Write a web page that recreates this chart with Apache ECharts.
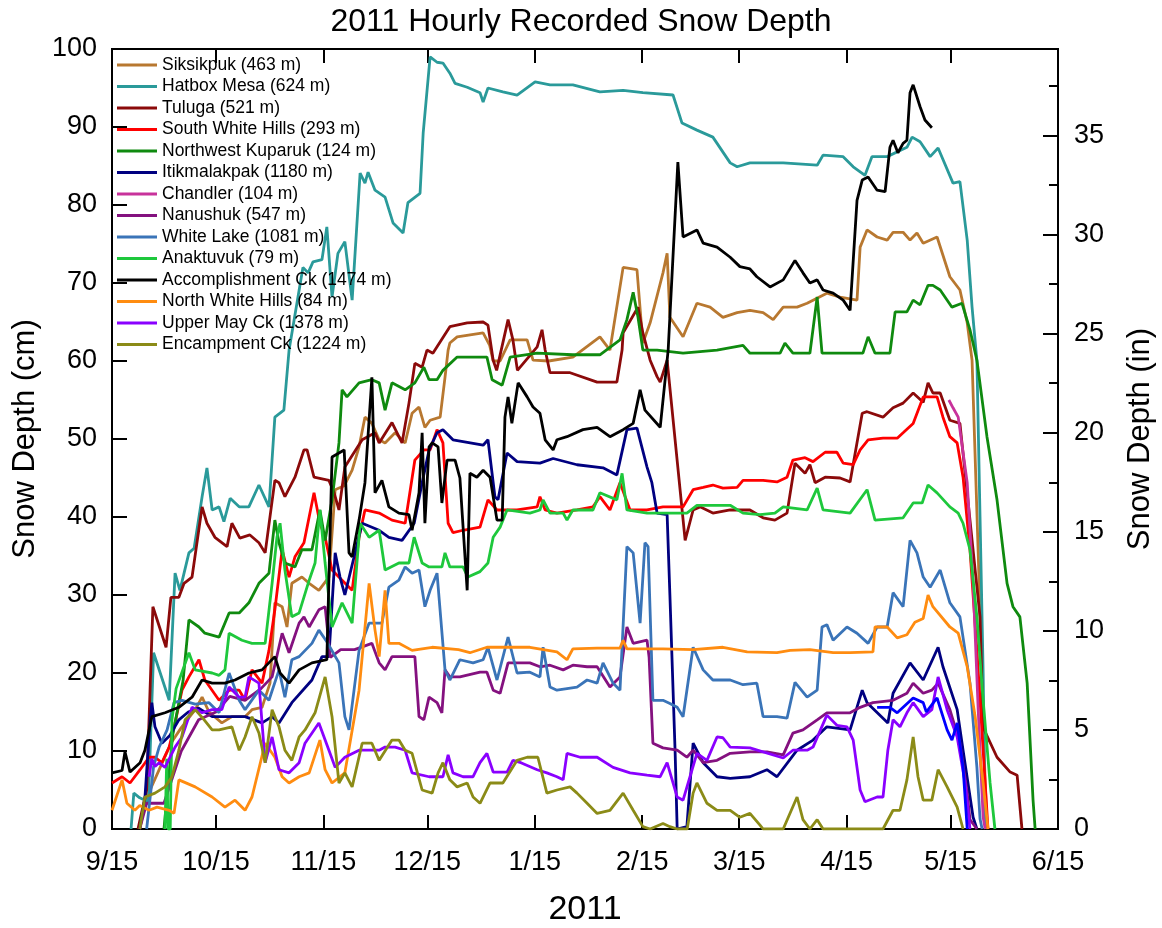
<!DOCTYPE html>
<html><head><meta charset="utf-8">
<script src="https://cdn.jsdelivr.net/npm/echarts@6/dist/echarts.min.js"></script>
<style>html,body{margin:0;padding:0;background:#fff}#c{width:1162px;height:928px}</style>
</head><body><div id="c"></div>
<script>
// day offsets from 2010-09-15, values in cm
const tickDays = [0, 30, 61, 91, 122, 153, 181, 212, 242, 273];
const tickLabels = ['9/15','10/15','11/15','12/15','1/15','2/15','3/15','4/15','5/15','6/15'];

const siksikpuk = [[8,0],[9,2],[11,5],[14,8],[17,11],[20,13],[24,15.3],[26,16.9],[28,15],[31.7,13.6],[34.6,14.4],[38.4,14.4],[40.4,15.3],[43.3,15.6],[45.6,18.7],[47,29],[49.1,28.5],[50.5,25.9],[51.9,31.5],[54.8,32.3],[56.9,31.5],[59.7,30.6],[62.6,32.3],[64.4,43.5],[67,44],[69.3,46],[71.3,49],[73,52.8],[75,52],[77.1,49.9],[78.8,49.5],[81.7,50.8],[84.6,49.5],[86.6,53.3],[88.6,54.1],[90.3,51.5],[91.8,52.4],[94.7,52.8],[96.1,57.9],[97,61.4],[97.5,62.3],[99.6,63.1],[107.1,63.6],[109,62],[110,60],[112,60],[114.9,62.7],[119.8,62.7],[121.5,60.1],[126,60],[133,60.5],[140.8,63.1],[143.7,61.4],[147.5,72],[151.5,71.7],[153.2,62.3],[155.3,64.9],[159,71.3],[160.2,73.8],[161,65.6],[164.8,63.1],[168.8,67.4],[172.6,66.9],[176.3,65.6],[180.4,66.2],[184.1,66.5],[187.9,66.2],[190.8,65.3],[193.7,66.9],[197.7,66.9],[200.6,67.4],[206.3,68.7],[210.1,68.2],[215,67.8],[215.9,74.6],[217.9,76.8],[220.8,75.9],[223.7,75.5],[225.4,76.5],[228.3,76.5],[230.3,75.5],[232.3,76.4],[234.1,75.1],[238.1,75.9],[241.8,70.8],[244.7,69.1],[246.8,64.9],[248.2,60.1],[250,35],[251.5,12],[252.5,0]];
const hatboxMesa = [[5.5,0],[6.3,4.6],[8,4],[10.5,3.5],[12,22.6],[16.5,16.5],[18.2,32.8],[19.6,30.6],[22.2,35.4],[23.7,36],[26,42.6],[27.4,46.3],[28.9,40.9],[30.9,41.3],[32.3,39.4],[34.1,42.4],[36.7,41.3],[39.5,41.3],[42.4,44.1],[45.3,41.3],[47,52.8],[49.6,53.7],[51.1,61.4],[55.1,72],[56.6,71.3],[58,72.7],[60.6,73],[62,77.2],[63.5,68.2],[65.2,73.8],[67.2,75.3],[69.3,67.8],[71.6,84.1],[73,82.8],[73.9,84.2],[75.9,81.9],[78.8,81],[81.1,77.7],[84,76.4],[85.4,80.3],[88.9,81.5],[89.8,89.2],[91.8,99],[93.8,98.3],[95.5,98.2],[97.5,96.9],[99,95.6],[102.5,95.1],[106.2,94.4],[107.1,93.2],[108.5,95],[112.8,94.5],[116.9,94.1],[122.1,95.8],[126.4,95.4],[133,95.4],[140.8,94.5],[147.5,94.7],[153.2,94.4],[161.9,94.1],[164.5,90.5],[168.8,89.6],[173.4,88.7],[178.4,85.4],[180.4,84.9],[184.1,85.4],[193.7,85.4],[203.5,85.1],[205.2,86.4],[211,86.2],[213.9,84.9],[217.3,83.8],[219.3,86.2],[223.7,86.2],[229.4,87.4],[230.9,88.7],[233.2,88.1],[236.1,86.2],[238.4,87.3],[242.7,82.8],[244.7,83],[246.8,75.5],[248.2,66.9],[249.6,60],[250.5,40],[251.4,20],[252,0]];
const tuluga = [[7.5,0],[8.5,2],[10,5],[11.8,28.5],[15.6,23.3],[17,29.7],[19.3,29.7],[20.8,31.5],[23.1,32.3],[26,41.3],[27.4,39.2],[29.7,37.4],[33.2,36.2],[34.6,39.2],[36.9,37.3],[39.8,37.7],[42.4,36.7],[44.2,35.4],[47,44.7],[48.2,44.4],[49.9,42.6],[52.8,45.1],[55.4,48.6],[56.3,48.6],[58.3,45.1],[62.6,44.7],[64.1,43.1],[65.5,40.9],[67.2,46.4],[72.2,49.9],[75.9,50.8],[77.1,49.5],[80.8,52.1],[83.7,49.5],[85.7,54.6],[87.4,59.7],[89.5,59.2],[90.9,61.4],[92.6,61],[97.5,64.4],[102.5,64.9],[107.1,65],[108.5,64.6],[110,60.1],[111,58.8],[114.3,65.3],[115.7,62.7],[117,58.8],[122.7,61.8],[124.1,64],[125,61.4],[126.4,58.5],[132.2,58.5],[140,57.3],[145.7,57.3],[147.2,61.4],[147.5,63.6],[151.8,66.9],[153.2,63.6],[155.3,60.1],[157.3,58],[158.2,57.3],[160.2,60.1],[165.4,37],[167.7,40.9],[169.7,41.3],[173.4,40.5],[178.4,40.9],[184.1,40.9],[187.9,39.9],[191.3,39.6],[194.8,40.5],[197.1,46.9],[200,45.6],[201.4,46.7],[202.9,44.4],[205.8,45.1],[210.1,45],[213,44.5],[216.5,53.3],[217.9,53.5],[222.5,52.8],[225.4,54],[228.3,54.6],[231.2,55.9],[234.1,54.7],[235.5,57.2],[236.9,55.9],[239,55.9],[241.8,52.4],[244.7,52],[250.5,27.2],[251.4,13],[255.4,9.2],[259.2,7.3],[261.2,6.9],[262.6,0]];
const southWhiteHills = [[0,5.9],[2.9,6.7],[5.2,5.9],[8.1,7.6],[10.7,9.2],[12.4,9.2],[14.4,8.5],[16.5,10.5],[18.2,13.6],[20.2,17.8],[22.2,19.5],[25.1,21.7],[26.8,19.1],[30.9,16.5],[33.8,17.8],[36.7,17.8],[38.4,16.5],[40.4,20.4],[43.3,18.7],[45.3,22.9],[47,28.1],[49.1,35.8],[51.1,32.3],[52.8,34.9],[55.4,36.7],[58.3,43.1],[60,39.2],[61.5,37.4],[63.5,33.2],[66.4,31.9],[69.3,30.6],[71.3,37.4],[73,40.9],[77.1,40.5],[80.8,39.6],[84.6,39.2],[87.4,47.3],[90,48.6],[91.8,48.6],[93.8,51.2],[95.5,49.5],[97,39.2],[98.4,38],[101.3,38.3],[106.2,38.7],[108.5,42.2],[111.1,40.9],[116.9,40.9],[122.7,41.3],[123.5,42.6],[125,40.9],[128.4,40.5],[134.2,40.9],[138.8,41.3],[140.8,42.6],[143.7,40.9],[146.6,44.4],[149.5,40.9],[154.4,40.9],[159,41.3],[164.8,41.3],[167.7,43.5],[170.6,43.8],[173.4,44.1],[176.3,43.7],[180.4,43.8],[182.1,44.7],[187.9,44.7],[191.9,44.5],[194.8,45.1],[196.5,47.3],[200,47.6],[202.3,47.1],[205.8,48.3],[209.2,48.3],[211,46.9],[213.9,46.7],[215.9,48.6],[218.2,49.9],[222.5,50.1],[226.6,50.1],[228.3,50.8],[231.2,52],[234.1,55.4],[238.1,55.4],[239.8,52.8],[241.8,50.3],[243.9,49.5],[245.6,45.1],[247.6,35.8],[249.6,22.9],[251.4,10.1],[252.8,0]];
const northwestKuparuk = [[15,0],[17.5,12],[20.5,19],[22.2,26.8],[25.1,25.9],[26.8,25.1],[30.9,24.6],[33.8,27.7],[36.7,27.7],[39.5,29],[42.4,31.5],[45.3,32.8],[47,39.6],[48.2,36.7],[49.9,34.1],[52.8,33.6],[54.8,35.8],[57.7,35.8],[60,40.9],[61.5,37],[63.5,42.2],[65.5,49.5],[66.4,56.3],[67.8,55.4],[71.3,57.2],[75,57.6],[77.1,57.2],[78.8,53.7],[80.8,57.2],[84.6,56.3],[87.4,57.2],[90,59.2],[91.5,57.6],[93.8,57.6],[95.5,58.8],[99.6,60.5],[102.5,60.5],[108.2,60.5],[109.7,57.6],[112.6,56.9],[114.9,60.5],[122.7,61],[133,60.8],[140.8,60.8],[146.6,62.7],[148.6,65.3],[150.4,68.8],[151.8,65.6],[153.2,61.4],[157.3,61.4],[164.8,61],[174.6,61.4],[182.1,62],[184.1,61],[192.8,61],[194.2,62.3],[196.5,61],[201.4,61],[203.5,68.2],[204.9,61],[216.7,61],[218.2,63.1],[220.2,61],[224.5,61],[226,66.3],[229.4,66.3],[231.2,67.8],[233.2,67.2],[235.5,69.7],[236.9,69.7],[239,69.1],[242.4,66.9],[245.3,67.4],[247.6,64],[249.6,60.1],[252.5,50.3],[255.4,42.2],[258.3,31.5],[260,28.5],[262,27.2],[264.1,18.7],[265.8,3.7],[266.4,0]];
const itikmalakpak = [[8,0],[9.5,4],[11,14],[11.5,16.2],[12.4,13.1],[14.4,11],[16.7,12],[19.3,14],[22,15],[25,15.5],[28.9,14.4],[38.4,14.4],[43.3,13.6],[46.2,14.4],[48.2,13.6],[51.9,16.2],[57.7,19.1],[60.6,22.1],[62.6,22.1],[64.4,35.4],[65.8,32.3],[67.2,30],[72.2,39.2],[77.1,38.3],[79.9,37.4],[83.7,37],[87.2,39.2],[89.5,44.4],[91.5,48.6],[93.8,50.8],[95.5,51.2],[98.4,49.9],[107.1,49.2],[108.5,49.9],[110.5,42.6],[111.4,42.2],[114,48.2],[116.9,47.1],[123.5,46.9],[127.3,47.5],[134.2,46.7],[141.7,46.3],[145.7,45.4],[148.6,51.2],[151.5,51.4],[154.4,46.4],[155.8,44.4],[157.3,40.5],[160.2,40.3],[161,30],[162.5,10],[163.1,0],[165.9,0.3],[167.7,11],[170.6,8.5],[174.6,6.7],[178.4,6.5],[184.1,6.7],[189,7.6],[191.9,6.7],[197.7,10.1],[202.3,11.4],[206.3,13.1],[213,12.7],[216.5,17.8],[217.9,16.2],[223.9,13.6],[225.4,17.4],[230.3,21.3],[234.1,19.1],[238.4,23.3],[239.8,20.8],[243.9,15.3],[245.6,10.1],[248.5,1.5],[249.6,0]];
const chandler = [[241.5,55],[242.7,54],[244.2,52.8],[246.8,44.4],[248.5,31.5],[250,15],[251.4,1.5],[252,0]];
const nanushuk = [[8,0],[10,3.3],[15,3.3],[17,6],[20,10],[25,14],[30,15],[34,17],[38.4,16.5],[43,18],[46.2,19.5],[49.1,25.1],[51.1,22.6],[54,26.4],[55.4,27.2],[56.9,25.9],[59.7,28.1],[61.5,28.5],[63,22],[66,23],[70,23],[75,23.8],[77.1,21.3],[78.8,20.4],[80.8,22.1],[87.4,22.1],[88.6,14.4],[90,14],[91.5,16.9],[93.8,16.2],[95.2,14.9],[96.1,20.4],[97.5,19.5],[100.4,19.5],[106.2,20.1],[108.2,20.1],[110,17.8],[112,17.4],[114.3,21.3],[120.6,21.3],[123.5,20.8],[126.4,21],[130.2,20.4],[133,21],[137.1,20.8],[140,20.8],[143.7,18.2],[146.6,19.5],[148.6,25.9],[150.4,23.8],[154.4,24.2],[155,22],[156.1,11],[159,10.4],[163.1,10.1],[165.9,9.2],[167.7,10.1],[170.6,8.5],[174.6,8.8],[178.4,9.7],[184.1,9.9],[189,9.9],[193.7,9.5],[196.5,12.3],[199.4,12.7],[203.5,14],[206.3,14.9],[213,14.9],[215.9,15.6],[219.6,16.2],[225.4,16.5],[229.4,17.4],[231.2,18.7],[234.1,17.4],[236.6,17.8],[238.4,18.7],[241.8,15.3],[244.7,11],[246.8,4.6],[247.6,1.2],[249.6,0]];
const whiteLake = [[10,0],[12,8],[13.6,10.5],[15.9,12.7],[17.9,16.2],[20.2,16.5],[24,16],[28,16.2],[30.9,14.9],[33.8,20],[36.7,16.5],[38.4,15.3],[42.4,17.8],[45.3,16.5],[48.2,20.4],[49.9,16.9],[51.9,21.7],[54,22.1],[57.7,23.8],[59.7,25.5],[62,24],[65.5,21.3],[67.2,14.4],[68.4,12.7],[71.3,22.9],[74.2,26.4],[77.9,26.4],[79.9,31],[82.8,31.9],[84.6,33.6],[86.6,32.8],[88.6,33.2],[90.3,28.5],[91.8,30.6],[93.8,32.8],[96.1,20.4],[97.5,19.1],[100.4,21.7],[104.2,21.3],[107.1,21.7],[108.5,23.3],[111.1,19.1],[114.3,24.6],[116.9,20],[120.6,20.1],[123.5,19.5],[124.4,23.3],[126.4,18.2],[128.4,17.8],[134.2,18.2],[137.1,19.1],[140,18.7],[141.7,21.3],[144.6,18.7],[146.6,17.8],[148.6,36.2],[150.4,35.4],[152.4,26.4],[153.8,36.7],[154.7,36.2],[156.1,16.5],[159,16.5],[161,16.1],[163.1,15.6],[164.8,14.4],[167.7,23.3],[170.6,20.4],[173.4,19.1],[178.4,19.1],[182.1,18.5],[186.1,18.7],[187.9,14.4],[191.9,14.4],[194.8,14.2],[197.1,18.8],[200.6,16.9],[203.5,17.8],[204.9,25.9],[206.3,26.2],[208.1,24.2],[212.1,25.9],[215,25.1],[218.2,23.8],[220.8,25.9],[223.7,25.9],[225.4,30.3],[228.3,28.5],[230.3,37],[232.3,35.4],[234.1,32.3],[236.1,31],[239,33.2],[241.8,29],[244.7,27.2],[247.6,18.7],[249.6,7.9],[250.5,1.3],[251.1,0]];
const anaktuvuk = [[15.3,0],[15.8,9],[16.2,0],[16.8,0],[17.3,14],[18.5,18],[22.2,22.6],[24,20.4],[28.9,20],[30.9,19.7],[32.6,20.4],[33.8,25.1],[37.5,24.2],[40.4,23.8],[44.2,23.8],[46.2,31.5],[47.6,37.4],[48.5,39.2],[49.9,33.2],[51.9,27.2],[54,27.7],[56.9,31.9],[58.6,34.1],[60,40.9],[61.5,34.1],[63.5,25.9],[66.4,29],[69.3,26.4],[71.6,39.2],[74.2,37.4],[77.1,38.3],[78.8,33.2],[82.8,34.1],[85.7,34.1],[87.2,37.4],[89.5,34.1],[91.5,33.6],[95.2,33.6],[96.1,35.4],[97.5,33.6],[101.3,33.6],[102.7,32.3],[106.2,33],[108.5,34.1],[110,37.4],[112,38.7],[114,40.9],[120.6,40.5],[123.5,40.9],[124.4,42.2],[126.4,40.5],[130.2,40.5],[131.3,39.6],[133,40.9],[138.8,40.9],[140.8,43.1],[145.7,42.2],[147.2,45.6],[148.6,40.9],[154.4,40.5],[159,40.5],[165.9,40.5],[168.8,41.5],[178.4,41.5],[182.1,40.5],[187,40.3],[191.3,40.5],[193.7,41.3],[200.6,40.9],[203.5,43.7],[205.2,40.9],[213,40.5],[217.9,43.5],[220.2,39.6],[228.3,39.9],[231.2,41.8],[233.8,41.8],[235.5,44.1],[238.1,43.1],[241.8,41.3],[244.2,40.5],[245.6,39.2],[247.6,35.8],[249.6,27.2],[251.4,16.5],[253.4,5.9],[254.8,0]];
const accomplishmentCk = [[0,7.2],[2.9,7.5],[3.75,9.9],[5.2,7.3],[8.1,8.5],[9.5,10.1],[10.7,12.7],[11.5,14.4],[15.3,14.9],[19.3,15.6],[23.1,16.9],[26,19.1],[28.9,18.7],[32.6,18.7],[35.5,19.1],[39.5,20],[43.3,20.4],[47,22.1],[48.5,20],[51.1,18.7],[54,20.4],[57.7,21.3],[62,21.7],[63.5,47.7],[67,48.6],[68.4,35.4],[69.3,34.9],[71.3,39.6],[73,44.4],[75,57.9],[75.9,43.1],[77.9,44.7],[79.9,41.3],[82.8,40.5],[85.7,40.3],[86.6,38.3],[88.6,43.1],[89.5,50.8],[90.3,39.2],[91.5,49],[92.4,49.5],[94.1,49],[95.2,41.8],[96.7,47.3],[99,47.3],[100.4,45],[102.5,30.6],[103.3,45.6],[105.3,45.1],[107.1,46],[109.1,45.1],[111.1,39.6],[112.6,39.6],[113.4,52.8],[114.3,55.4],[115.4,52],[117.2,57.2],[119.8,55.4],[121.5,54.1],[123.5,53.3],[125,49.9],[127.3,48.6],[128.4,49.9],[131.3,50.3],[135.9,51.2],[140,51.5],[143.7,50.3],[147.5,51.2],[150.4,52],[152.4,56.3],[153.8,53.7],[158.2,51.5],[160.5,61.4],[163.3,85.5],[164.8,75.9],[168.8,76.8],[170.6,75.1],[174.6,74.6],[178.4,73.3],[181.2,72.1],[184.1,71.8],[186.1,70.8],[189.9,69.5],[193.7,70.4],[197.1,72.9],[199.4,71.3],[201.4,70],[203.5,70.4],[205.2,69.1],[208.1,68.7],[211,67.8],[213,66.5],[215,80.6],[216.5,83.2],[218.2,83.6],[220.8,81.9],[223.1,81.7],[224.5,87.4],[225.4,88.3],[226.8,86.7],[228.3,87.9],[229.4,88.3],[230.3,94.4],[231.2,95.4],[233.2,92.6],[234.6,90.9],[236.6,89.9]];
const northWhiteHills = [[0,2.4],[2.9,6.3],[4.3,3.3],[6.6,2.4],[8,3],[10.7,2.4],[13,2.8],[16.5,2.4],[17.9,2],[19.3,6.3],[24,5.4],[28.9,4.1],[32.6,2.8],[35.5,3.7],[38.4,2.4],[40.4,4.1],[44.2,11],[47,9.2],[49.1,6.7],[51.1,5.9],[54,6.7],[56.9,7.2],[60,11.4],[61.5,7.6],[63.5,5.9],[67.2,7.2],[71.3,17.8],[74.2,31.5],[75.9,25.5],[77.1,22.1],[78.8,30.6],[79.9,23.8],[82.8,23.8],[86.6,22.9],[92.4,23.3],[100,23],[103.3,22.6],[108.2,23.3],[114.9,23.3],[120.6,23.3],[128.4,22.7],[131.3,21.7],[133,23.1],[140,23.2],[146.6,23.2],[147.5,24.2],[148.6,23.1],[159,23.1],[167.7,23],[176.3,23.3],[183.3,22.7],[191.9,22.6],[195.7,22.9],[201.4,23],[208.1,22.6],[213,22.6],[219.6,22.7],[220.2,25.9],[223.7,25.9],[226.6,24.5],[229.4,24.9],[231.7,26.5],[234.1,27],[235.5,30],[236.9,28.5],[241.8,25.9],[244.2,25.1],[246.8,20.8],[249.1,14.4],[251.4,5.9],[252.8,0]];
const upperMayCk = [[10.7,6.7],[11.5,9],[12.4,8],[13.6,8.5],[15.3,7.9],[18.2,10.5],[20.2,11.8],[23.1,15.6],[26,14.9],[28.9,15.3],[31.7,15.3],[33.8,18.2],[36.7,16.9],[38.4,16.9],[39.5,19.5],[42.4,18.7],[44.2,8.5],[46.2,11.8],[48.2,7.6],[51.1,7.2],[54,8.5],[55.7,11],[59.7,13.6],[62.6,10.1],[64.4,7.9],[67.2,9.2],[71.3,10.1],[77.1,10.1],[78.8,10.5],[81.7,10.5],[84.6,10.1],[86.6,7.2],[91.5,6.7],[95.5,6.7],[97,9.5],[98.4,7.2],[101.3,6.7],[104.2,6.7],[106.2,8.5],[108.2,9.7],[110,7.3],[114,7.3],[115.7,8.8],[118,8.5],[122.7,7.6],[125.5,7.2],[128.4,6.7],[130.2,6.3],[131.3,9.7],[135.1,9.2],[140,9.2],[144.6,7.9],[149.5,7.2],[154.4,6.9],[158.2,6.7],[160.2,8.5],[163.1,4.1],[164.8,3.7],[166.8,6.7],[168.8,9.7],[171.7,8.8],[174.6,11.8],[176.3,11.7],[178.4,10.5],[184.1,10.4],[193.7,9.1],[196.5,10.1],[200.6,10.1],[202.3,10.5],[206.3,14.6],[209.2,13.3],[212.1,13.1],[213.9,11.4],[215.9,5],[217.3,3.5],[220.8,4.1],[222.5,4.1],[223.9,10.1],[225.4,14],[227.4,13.1],[229.4,14.9],[231.2,16.2],[234.1,14.4],[236.6,15.3],[238.4,19.5],[241,15.3],[243.9,11.8],[246.2,5.9],[247.6,0]];
const encampmentCk = [[8,0],[9.5,4.1],[12.4,4.6],[15.3,5.4],[17.3,6.7],[19.3,10.1],[21.1,14],[24,15.3],[26.6,14],[28.9,12.7],[30.9,12.7],[34.6,13.1],[36.7,10.1],[38.4,11.8],[40.4,14.4],[42.4,12.3],[44.2,8.5],[46.2,15.3],[48.2,13.1],[49.9,10.1],[51.9,8.8],[54,11.8],[55.7,12.7],[58.6,14.9],[61.5,19.5],[63.5,14.4],[65.5,5.9],[67.2,7.2],[69.3,5.4],[72.2,11],[75,11],[77.1,8.8],[80.8,11.4],[82.8,11.4],[84.6,10.1],[86.6,9.7],[89.5,5],[92.4,4.6],[94.1,7.2],[95.5,8.5],[97.5,6.3],[99.6,5.4],[102.5,5.9],[104.2,4.1],[106.2,3.3],[109.1,5.9],[112.8,5.9],[116.9,8.8],[119.8,9.2],[122.9,9.2],[125.5,4.6],[128.4,5],[132.2,5.4],[134.2,4.6],[137.1,3.3],[140,2],[143.7,2.4],[147.5,4.6],[150.4,2.4],[153.2,0.3],[155.3,0],[159,0.7],[161,0.3],[163.1,0],[166,0],[167.7,4.6],[168.8,5.9],[171.7,3.3],[174.6,2.4],[178.4,2.4],[181.2,1.5],[184.1,2],[187,0.5],[187.9,0],[193.7,0],[197.7,4.1],[199.4,1.2],[201.4,0],[203.5,1.2],[205.2,0],[222.5,0],[225.4,2.4],[227.4,2.4],[229.4,6.3],[231.2,11.8],[232.6,6.7],[234.1,3.7],[236.6,3.7],[238.4,7.6],[241,5.4],[243.9,2.8],[245.6,0]];
const extraBlue = [[220.8,15.6],[224.5,15.6],[226.6,14.9],[231.2,16.8],[234.1,16.2],[235,15],[238.1,16.8],[241,12.7],[242.4,11.4],[243.9,13.6],[245.6,7.9],[246.8,0]];

const seriesNames = ['Siksikpuk (463 m)','Hatbox Mesa (624 m)','Tuluga (521 m)','South White Hills (293 m)','Northwest Kuparuk (124 m)','Itikmalakpak (1180 m)','Chandler (104 m)','Nanushuk (547 m)','White Lake (1081 m)','Anaktuvuk (79 m)','Accomplishment Ck (1474 m)','North White Hills (84 m)','Upper May Ck (1378 m)','Encampment Ck (1224 m)'];
const seriesData = [siksikpuk,hatboxMesa,tuluga,southWhiteHills,northwestKuparuk,itikmalakpak,chandler,nanushuk,whiteLake,anaktuvuk,accomplishmentCk,northWhiteHills,upperMayCk,encampmentCk];
const seriesColors = ['#B87830','#2A9A9A','#8B0A0A','#FF0000','#0F8A0F','#000080','#C8329B','#84117F','#3A74B8','#1EC83C','#000000','#FF8C10','#8A00FF','#8B8B17'];

const FONT = 'Liberation Sans, Arial, sans-serif';
const LW = 2.8;
const series = seriesNames.map((n, i) => ({
  name: n, type: 'line', data: seriesData[i], symbol: 'none', showSymbol: false,
  lineStyle: { width: LW, color: seriesColors[i] }, itemStyle: { color: seriesColors[i] },
  z: 2 + i, animation: false
}));
series.splice(13, 0, { name: 'extra', type: 'line', data: extraBlue, symbol: 'none', lineStyle: { width: LW, color: '#0000FF' }, itemStyle:{color:'#0000FF'}, z: 14, animation: false });

const axisLineStyle = { show: true, onZero: false, lineStyle: { color: '#000', width: 2 } };

const chart = echarts.init(document.getElementById('c'), null, { renderer: 'canvas' });
chart.setOption({
  animation: false,
  backgroundColor: '#fff',
  title: { text: '2011 Hourly Recorded Snow Depth', left: 'center', top: 1, textStyle: { fontFamily: FONT, fontSize: 32, fontWeight: 'normal', color: '#000' } },
  legend: {
    data: seriesNames, orient: 'vertical', left: 117, top: 56, padding: 0,
    icon: 'rect', itemWidth: 40, itemHeight: 3, itemGap: 3.5,
    textStyle: { fontFamily: FONT, fontSize: 17.5, color: '#000', lineHeight: 18, padding: 0 }
  },
  grid: { left: 112, right: 104, top: 49, bottom: 99, show: true, borderColor: '#000', borderWidth: 2, backgroundColor: 'transparent', containLabel: false, outerBoundsMode: 'none' },
  xAxis: [{
    type: 'value', min: 0, max: 273, position: 'bottom',
    name: '2011', nameLocation: 'middle', nameGap: 64,
    nameTextStyle: { fontFamily: FONT, fontSize: 34, color: '#000' },
    axisLine: axisLineStyle,
    axisTick: { show: true, inside: true, length: 14, lineStyle: { color: '#000', width: 2 }, customValues: tickDays },
    axisLabel: { customValues: tickDays, margin: 20, fontFamily: FONT, fontSize: 27, color: '#000',
      formatter: v => tickLabels[tickDays.indexOf(Math.round(v))] || '' },
    splitLine: { show: false }
  }, {
    type: 'value', min: 0, max: 273, position: 'top',
    axisLine: axisLineStyle,
    axisTick: { show: true, inside: true, length: 14, lineStyle: { color: '#000', width: 2 }, customValues: tickDays },
    axisLabel: { show: false }, splitLine: { show: false }
  }],
  yAxis: [{
    type: 'value', min: 0, max: 100, interval: 10, position: 'left',
    name: 'Snow Depth (cm)', nameLocation: 'middle', nameGap: 67, nameRotate: 90,
    nameTextStyle: { fontFamily: FONT, fontSize: 31, color: '#000' },
    axisLine: axisLineStyle,
    axisTick: { show: true, inside: true, length: 15, lineStyle: { color: '#000', width: 2 } },
    axisLabel: { margin: 15, fontFamily: FONT, fontSize: 27, color: '#000' },
    splitLine: { show: false }
  }, {
    type: 'value', min: 0, max: 100 / 2.54, interval: 5, position: 'right',
    name: 'Snow Depth (in)', nameLocation: 'middle', nameGap: 67, nameRotate: 90,
    nameTextStyle: { fontFamily: FONT, fontSize: 31, color: '#000' },
    axisLine: axisLineStyle,
    axisTick: { show: true, inside: true, length: 15, lineStyle: { color: '#000', width: 2 } },
    minorTick: { show: true, splitNumber: 2, length: 9, lineStyle: { color: '#000', width: 2 } },
    axisLabel: { margin: 16, fontFamily: FONT, fontSize: 27, color: '#000', showMaxLabel: false,
      formatter: v => (Math.abs(v % 5) < 1e-6 ? String(v) : '') },
    splitLine: { show: false }
  }],
  series: series
});
</script></body></html>
